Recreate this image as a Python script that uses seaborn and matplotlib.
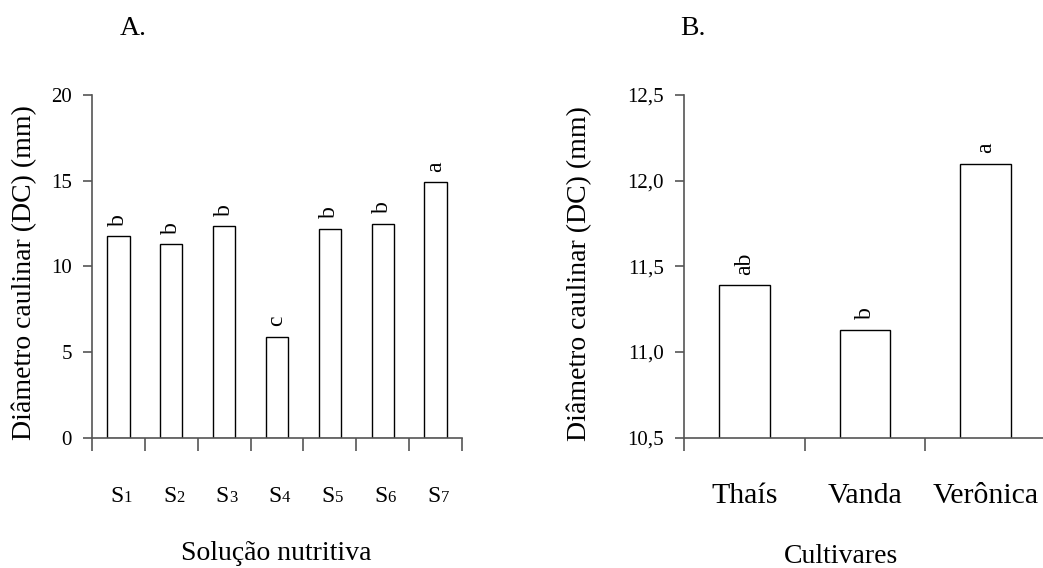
import matplotlib
matplotlib.use("Agg")
import matplotlib.pyplot as plt
import seaborn as sns
import numpy as np
import pandas as pd

# painel A - solucao nutritiva
solucoes = ["S1", "S2", "S3", "S4", "S5", "S6", "S7"]
dc_solucao = [11.75, 11.3, 12.35, 5.9, 12.2, 12.5, 14.9]
letras_solucao = ["b", "b", "b", "c", "b", "b", "a"]
yticks_a = [0, 5, 10, 15, 20]

# painel B - cultivares
cultivares = ["Thaís", "Vanda", "Verônica"]
dc_cultivar = [11.39, 11.13, 12.10]
letras_cultivar = ["ab", "b", "a"]
yticks_b = [10.5, 11.0, 11.5, 12.0, 12.5]

W, H = 1043, 568
AXIS_COLOR = "#555555"

sns.set_style("ticks")
plt.rcParams["font.family"] = ["Liberation Serif", "DejaVu Serif"]
plt.rcParams["text.color"] = "black"
plt.rcParams["xtick.labelcolor"] = "black"
plt.rcParams["ytick.labelcolor"] = "black"


def px(x, y):
    return x / W, 1 - y / H


def draw_panel(ax, cats, vals, letters, yticks, ylabels):
    df = pd.DataFrame({"cat": cats, "val": vals})
    sns.barplot(data=df, x="cat", y="val", color="white", saturation=1,
                edgecolor="black", linewidth=1.0, width=0.42, ax=ax)
    n = len(cats)
    ax.set_xlim(-0.5, n - 0.5)
    ax.set_ylim(yticks[0], yticks[-1])
    ax.set_yticks(yticks, ylabels)
    ax.set_xticks(np.arange(-0.5, n, 1.0), [""] * (n + 1))
    ax.tick_params(axis="y", direction="out", length=6.5, width=1.2,
                   color=AXIS_COLOR, pad=8, labelsize=15)
    ax.tick_params(axis="x", direction="out", length=9.4, width=1.2,
                   color=AXIS_COLOR)
    for side in ["top", "right"]:
        ax.spines[side].set_visible(False)
    for side in ["left", "bottom"]:
        ax.spines[side].set_color(AXIS_COLOR)
        ax.spines[side].set_linewidth(1.2)
    ax.set_xlabel("")
    ax.set_ylabel("")
    for i, (v, t) in enumerate(zip(vals, letters)):
        ax.annotate(t, xy=(i, v), xytext=(0, 7.5), textcoords="offset points",
                    rotation=90, ha="center", va="bottom", fontsize=17)


fig = plt.figure(figsize=(W / 100, H / 100), dpi=100)

# A
ax_a = fig.add_axes([92 / W, 1 - 437.7 / H, (462 - 92) / W, (437.7 - 95) / H])
draw_panel(ax_a, solucoes, dc_solucao, letras_solucao, yticks_a,
           [str(t) for t in yticks_a])
for i, s in enumerate(solucoes):
    ax_a.annotate(s[0], xy=(i, 0), xycoords=("data", "axes fraction"),
                  xytext=(3.5, -46), textcoords="offset points",
                  ha="right", va="baseline", fontsize=17)
    ax_a.annotate(s[1:], xy=(i, 0), xycoords=("data", "axes fraction"),
                  xytext=(3.5, -46), textcoords="offset points",
                  ha="left", va="baseline", fontsize=12)

# B
ax_b = fig.add_axes([684.3 / W, 1 - 437.7 / H, (1046 - 684.3) / W, (437.7 - 95) / H])
draw_panel(ax_b, cultivares, dc_cultivar, letras_cultivar, yticks_b,
           [f"{t:.1f}".replace(".", ",") for t in yticks_b])
for i, c in enumerate(cultivares):
    ax_b.annotate(c, xy=(i, 0), xycoords=("data", "axes fraction"),
                  xytext=(0, -47), textcoords="offset points",
                  ha="center", va="baseline", fontsize=21.5)

# rotulos dos eixos e titulos
fig.text(*px(24, 273), "Diâmetro caulinar (DC) (mm)", rotation=90,
         ha="center", va="center", fontsize=20)
fig.text(*px(579, 274), "Diâmetro caulinar (DC) (mm)", rotation=90,
         ha="center", va="center", fontsize=20)
fig.text(*px(276, 560), "Solução nutritiva", ha="center", va="baseline", fontsize=20)
fig.text(*px(841, 563), "Cultivares", ha="center", va="baseline", fontsize=20)
fig.text(*px(120, 35), "A.", ha="left", va="baseline", fontsize=20)
fig.text(*px(680, 35), "B.", ha="left", va="baseline", fontsize=20)

fig.savefig("out.png", dpi=100)
